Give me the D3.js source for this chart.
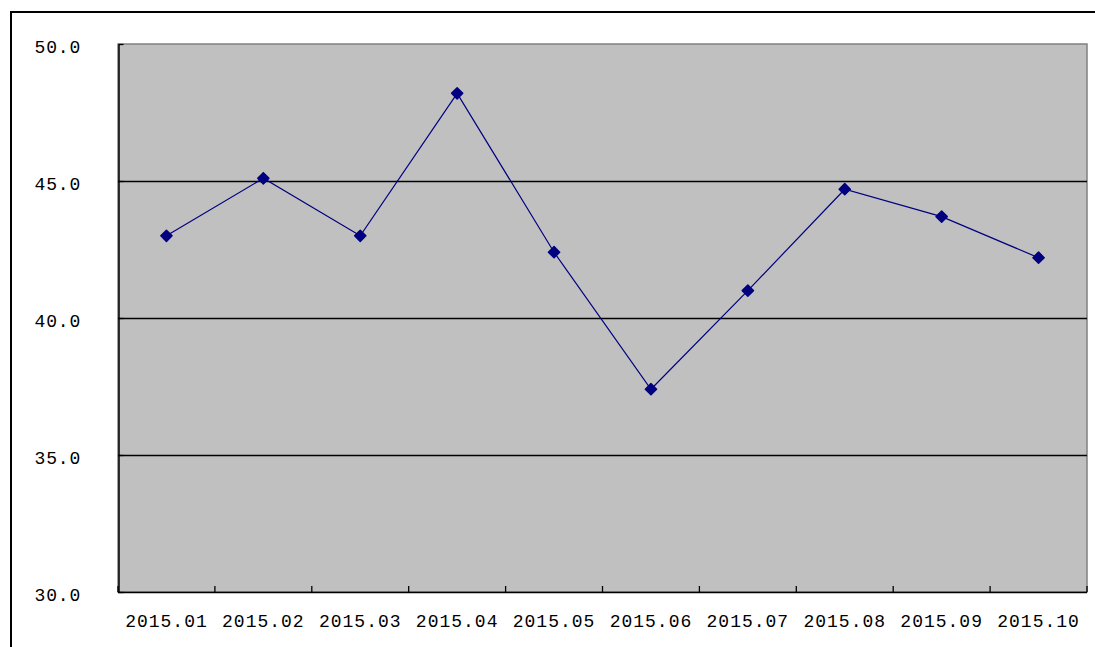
<!DOCTYPE html>
<html>
<head>
<meta charset="utf-8">
<script src="https://cdn.jsdelivr.net/npm/d3@7"></script>
<style>
  body { margin: 0; background: #fff; }
</style>
</head>
<body>
<div id="chart"></div>
<script>
// data
const months = ["2015.01", "2015.02", "2015.03", "2015.04", "2015.05",
                "2015.06", "2015.07", "2015.08", "2015.09", "2015.10"];
const values = [43.0, 45.1, 43.0, 48.2, 42.4, 37.4, 41.0, 44.7, 43.7, 42.2];
const yTicks = [30, 35, 40, 45, 50];

let width = 1095;
let height = 647;
let plot = {left: 118, top: 44, right: 1087, bottom: 592};

let svg = d3.select("#chart")
    .append("svg")
    .attr("width", width)
    .attr("height", height);

// outer frame
svg.append("rect")
    .attr("x", 11)
    .attr("y", 12)
    .attr("width", width + 20)
    .attr("height", height + 20)
    .attr("fill", "#fff")
    .attr("stroke", "#000")
    .attr("stroke-width", 2);

// scales
let xScale = d3.scaleBand()
    .domain(months)
    .range([plot.left, plot.right]);

let yScale = d3.scaleLinear()
    .domain([30, 50])
    .range([plot.bottom, plot.top]);

// plot area
svg.append("rect")
    .attr("x", plot.left)
    .attr("y", plot.top)
    .attr("width", plot.right - plot.left)
    .attr("height", plot.bottom - plot.top)
    .attr("fill", "#c0c0c0")
    .attr("stroke", "#808080")
    .attr("stroke-width", 1.5);

// gridlines
svg.append("g")
    .selectAll("line")
    .data(yTicks.filter(d => d > 30 && d < 50))
    .enter()
    .append("line")
    .attr("x1", plot.left)
    .attr("x2", plot.right)
    .attr("y1", d => yScale(d) + 0.5)
    .attr("y2", d => yScale(d) + 0.5)
    .attr("stroke", "#000")
    .attr("stroke-width", 1.3);

// y axis
let yAxis = d3.axisRight(yScale)
    .tickValues(yTicks)
    .tickSize(5)
    .tickSizeOuter(0)
    .tickFormat("");

let yG = svg.append("g")
    .attr("transform", `translate(${plot.left + 0.5},0)`)
    .call(yAxis);
yG.select(".domain").attr("stroke", "#000").attr("stroke-width", 1.5);
yG.selectAll(".tick line").attr("stroke", "#000").attr("stroke-width", 1.3);

svg.append("g")
    .selectAll("text")
    .data(yTicks)
    .enter()
    .append("text")
    .attr("x", 81)
    .attr("y", d => yScale(d) + 9)
    .attr("text-anchor", "end")
    .attr("font-family", "Liberation Mono")
    .attr("font-size", 18)
    .attr("letter-spacing", 0.8)
    .attr("fill", "#000")
    .text(d => d3.format(".1f")(d));

// x axis, ticks at the band edges pointing up
let edges = months.map(d => xScale(d)).concat([plot.right]);
let xG = svg.append("g");
xG.append("line")
    .attr("x1", plot.left)
    .attr("x2", plot.right)
    .attr("y1", plot.bottom + 0.5)
    .attr("y2", plot.bottom + 0.5)
    .attr("stroke", "#000")
    .attr("stroke-width", 1.5);
xG.selectAll(".xtick")
    .data(edges)
    .enter()
    .append("line")
    .attr("class", "xtick")
    .attr("x1", d => d)
    .attr("x2", d => d)
    .attr("y1", plot.bottom)
    .attr("y2", plot.bottom - 6)
    .attr("stroke", "#000")
    .attr("stroke-width", 1.3);

xG.selectAll("text")
    .data(months)
    .enter()
    .append("text")
    .attr("x", d => xScale(d) + xScale.bandwidth() / 2)
    .attr("y", plot.bottom + 35)
    .attr("text-anchor", "middle")
    .attr("font-family", "Liberation Mono")
    .attr("font-size", 18)
    .attr("letter-spacing", 1)
    .attr("fill", "#000")
    .text(d => d);

// line
let line = d3.line()
    .x((d, i) => xScale(months[i]) + xScale.bandwidth() / 2)
    .y(d => yScale(d));

svg.append("path")
    .datum(values)
    .attr("d", line)
    .attr("fill", "none")
    .attr("stroke", "#000080")
    .attr("stroke-width", 1.2);

// diamond markers
let diamond = d3.symbol().type(d3.symbolDiamond2).size(80);
svg.append("g")
    .selectAll("path")
    .data(values)
    .enter()
    .append("path")
    .attr("d", diamond)
    .attr("transform", (d, i) => `translate(${xScale(months[i]) + xScale.bandwidth() / 2},${yScale(d)})`)
    .attr("fill", "#000080")
    .attr("stroke", "#000080")
    .attr("stroke-width", 1.5)
    .attr("stroke-linejoin", "round");
</script>
</body>
</html>
